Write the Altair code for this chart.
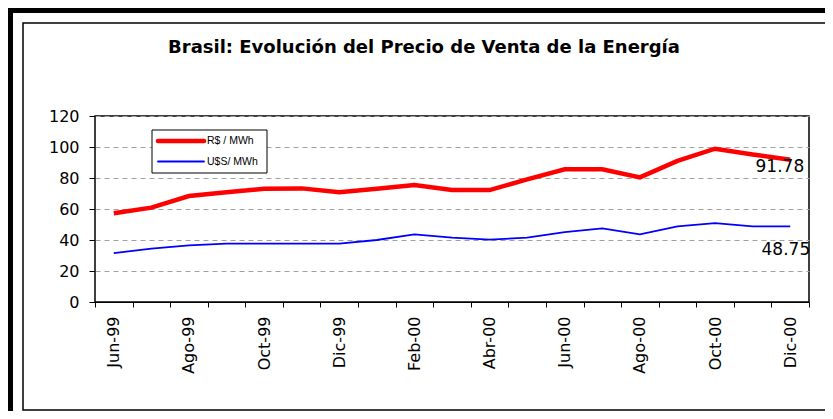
import altair as alt
import pandas as pd

months = ["Jun-99", "Jul-99", "Ago-99", "Sep-99", "Oct-99", "Nov-99", "Dic-99",
          "Ene-00", "Feb-00", "Mar-00", "Abr-00", "May-00", "Jun-00", "Jul-00",
          "Ago-00", "Sep-00", "Oct-00", "Nov-00", "Dic-00"]
brl = [57.2, 60.9, 68.4, 70.8, 73.1, 73.3, 70.8, 73.1, 75.5, 72.2, 72.2,
       79.1, 85.6, 85.6, 80.4, 91.0, 98.9, 95.2, 91.78]
usd = [31.6, 34.4, 36.5, 37.6, 37.6, 37.6, 37.6, 40.0, 43.6, 41.5, 40.2,
       41.5, 45.1, 47.5, 43.6, 48.8, 50.9, 48.8, 48.75]
series_names = ["R$ / MWh", "U$S/ MWh"]
series_colors = ["#ff0000", "#0000ff"]
series_widths = [4.5, 1.8]
title_text = "Brasil: Evolución del Precio de Venta de la Energía"
y_ticks = [0, 20, 40, 60, 80, 100, 120]

rows = []
for i, m in enumerate(months):
    rows.append({"month": m, "series": series_names[0], "value": brl[i], "order": i})
    rows.append({"month": m, "series": series_names[1], "value": usd[i], "order": i})
df = pd.DataFrame(rows)
deco = pd.DataFrame({"a": [0]})

FONT = "Liberation Sans"
WFONT = "DejaVu Sans"
months_js = "[" + ",".join("'" + m + "'" for m in months) + "]"

x_enc = alt.X(
    "month:O", sort=months, bandPosition=0.5,
    scale=alt.Scale(type="band", paddingInner=0, paddingOuter=0),
    axis=alt.Axis(title=None, labelAngle=270, labelFontSize=16, labelFont=WFONT,
                  labelColor="black", tickColor="black", domainColor="black",
                  tickSize=5, labelPadding=9, tickBand="extent", grid=False,
                  labelOverlap=False,
                  labelExpr="indexof(" + months_js + ", datum.value) % 2 == 0 ? datum.label : ''"),
)
y_enc = alt.Y(
    "value:Q", scale=alt.Scale(domain=[0, 120], nice=False),
    axis=alt.Axis(title=None, values=y_ticks, tickCount=7, labelFontSize=16, labelFont=WFONT,
                  labelColor="black", tickColor="black", domain=False, labelOverlap=False,
                  tickSize=6, labelPadding=10, grid=True, gridDash=[5, 4],
                  gridColor="#a0a0a0", gridWidth=1),
)

lines = alt.Chart(df).mark_line().encode(
    x=x_enc, y=y_enc,
    color=alt.Color("series:N", scale=alt.Scale(domain=series_names, range=series_colors), legend=None),
    strokeWidth=alt.StrokeWidth("series:N", scale=alt.Scale(domain=series_names, range=series_widths), legend=None),
    order="order:Q",
)

lbl_brl = alt.Chart(df).transform_filter(
    (alt.datum.month == months[-1]) & (alt.datum.series == series_names[0])
).mark_text(align="right", baseline="middle", dx=14, dy=7, fontSize=17, font=WFONT, color="black").encode(
    x=x_enc, y=y_enc, text=alt.Text("value:Q", format=".2f"))

lbl_usd = alt.Chart(df).transform_filter(
    (alt.datum.month == months[-1]) & (alt.datum.series == series_names[1])
).mark_text(align="right", baseline="middle", dx=20, dy=24, fontSize=17, font=WFONT, color="black").encode(
    x=x_enc, y=y_enc, text=alt.Text("value:Q", format=".2f"))

title = alt.Chart(deco).mark_text(text=title_text, fontSize=18, fontWeight="bold", font=WFONT,
                                  align="center", baseline="middle", color="black").encode(
    x=alt.value(329), y=alt.value(-68))

# decorative frames
top_bar = alt.Chart(deco).mark_rect(color="black").encode(
    x=alt.value(-87), x2=alt.value(740), y=alt.value(-108), y2=alt.value(-103))
left_bar = alt.Chart(deco).mark_rect(color="black").encode(
    x=alt.value(-87), x2=alt.value(-82), y=alt.value(-108), y2=alt.value(310))
inner_frame = alt.Chart(deco).mark_rect(filled=False, stroke="black", strokeWidth=1.5).encode(
    x=alt.value(-72), x2=alt.value(732), y=alt.value(-93), y2=alt.value(294))

# legend box
leg_box = alt.Chart(deco).mark_rect(fill="white", stroke="black", strokeWidth=1).encode(
    x=alt.value(57), x2=alt.value(172), y=alt.value(14), y2=alt.value(57))
leg_layers = []
for k, (name, col, w, yy) in enumerate(zip(series_names, series_colors, series_widths, [25, 45.5])):
    leg_layers.append(alt.Chart(deco).mark_rule(color=col, strokeWidth=w, strokeCap="round").encode(
        x=alt.value(63), x2=alt.value(109), y=alt.value(yy)))
    leg_layers.append(alt.Chart(deco).mark_text(text=name, fontSize=10.5, font=FONT, color="black",
                                                align="left", baseline="middle").encode(
        x=alt.value(112), y=alt.value(yy)))

chart = alt.layer(top_bar, left_bar, inner_frame, title, lines, lbl_brl, lbl_usd,
                  leg_box, *leg_layers).properties(
    width=714, height=186,
    autosize=alt.AutoSizeParams(type="none"),
    padding={"left": 87, "top": 108, "right": 16, "bottom": 109},
    background="white",
).configure_view(stroke="black", strokeWidth=1.5)

chart.save("out.html", embed_options={"renderer": "svg", "actions": False})
